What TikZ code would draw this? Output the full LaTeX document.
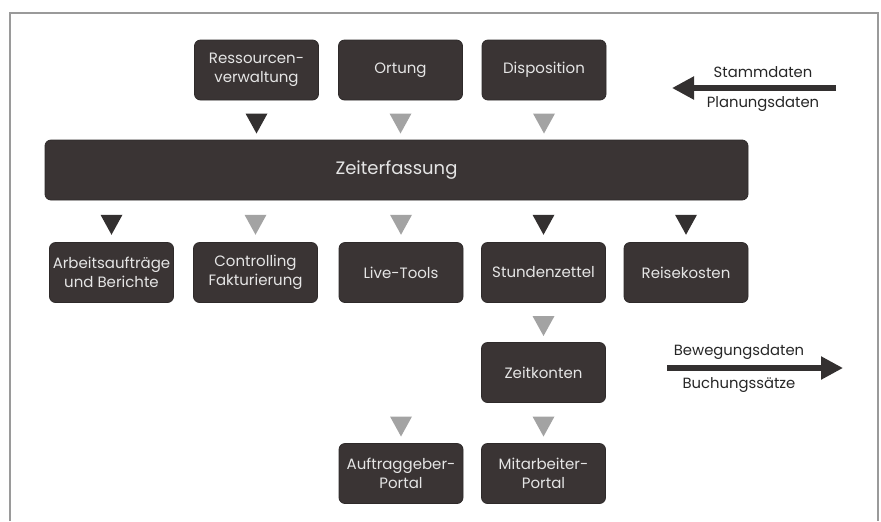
\documentclass[tikz,border=0pt]{standalone}
\usepackage{fontspec}
\setmainfont{Poppins}
\usepackage{xcolor}
\usetikzlibrary{positioning,calc,arrows.meta,shapes.geometric}

\definecolor{boxfill}{HTML}{3A3434}
\definecolor{tridark}{HTML}{333030}
\definecolor{trilight}{HTML}{A3A3A3}
\definecolor{framegray}{HTML}{9A9A9A}

\tikzset{
    modul/.style={rectangle,rounded corners=3pt,fill=boxfill,draw=boxfill!80!black,
                  text=white!90!black,align=center,font=\fontsize{7.5}{9.5}\selectfont,
                  inner sep=0pt,minimum width=62pt,minimum height=30pt},
    tri/.style={isosceles triangle,shape border rotate=270,isosceles triangle stretches,
                minimum width=11pt,minimum height=10pt,inner sep=0pt,draw=none},
    dunkel/.style={tri,fill=tridark},
    hell/.style={tri,fill=trilight},
    datenfluss/.style={line width=2.6pt,draw=tridark,-{Triangle[length=11pt,width=11pt]}},
    beschr/.style={font=\fontsize{7.4}{9}\selectfont,text=black!85}
}

\begin{document}
\begin{tikzpicture}[x=0.5pt,y=-0.5pt]
    \useasboundingbox (0,0) rectangle (881,521);
    \draw[framegray,line width=0.6pt] (10,521) -- (10,13) -- (878,13) -- (878,521);

    %Nodes
        \node[modul] (ress) at (256.5,70) {Ressourcen-\\verwaltung};
        \node[modul] (ortung) at (400.5,70) {Ortung};
        \node[modul] (dispo) at (544,70) {Disposition};

        \node[modul,minimum width=351.5pt,font=\fontsize{9}{11}\selectfont] (zeit) at (396.5,170) {Zeiterfassung};

        \node[modul] (arbeit) at (111.5,272.5) {Arbeitsaufträge\\und Berichte};
        \node[modul] (contr) at (255.5,272.5) {Controlling\\Fakturierung};
        \node[modul] (live) at (401,272.5) {Live-Tools};
        \node[modul] (stunden) at (543.5,272.5) {Stundenzettel};
        \node[modul] (reise) at (686,272.5) {Reisekosten};

        \node[modul] (konten) at (543.5,372.5) {Zeitkonten};

        \node[modul] (auftrag) at (401,473.5) {Auftraggeber-\\Portal};
        \node[modul] (mitarb) at (543.5,473.5) {Mitarbeiter-\\Portal};

        \coordinate (stammA) at (836,88);
        \coordinate (stammB) at (672,88);
        \coordinate (bewegA) at (667,368);
        \coordinate (bewegB) at (843,368);

    %Lines
        \path (ress.south) -- (zeit.north -| ress) node[midway,dunkel] (t1) {};
        \path (ortung.south) -- (zeit.north -| ortung) node[midway,hell] (t2) {};
        \path (dispo.south) -- (zeit.north -| dispo) node[midway,hell] (t3) {};

        \path (zeit.south -| arbeit) -- (arbeit.north) node[midway,dunkel] (t4) {};
        \path (zeit.south -| contr) -- (contr.north) node[midway,hell] (t5) {};
        \path (zeit.south -| live) -- (live.north) node[midway,hell] (t6) {};
        \path (zeit.south -| stunden) -- (stunden.north) node[midway,dunkel] (t7) {};
        \path (zeit.south -| reise) -- (reise.north) node[midway,dunkel] (t8) {};

        \path (stunden.south) -- (konten.north) node[midway,hell] (t9) {};
        \path (konten.south -| auftrag) -- (auftrag.north) node[midway,hell] (t10) {};
        \path (konten.south) -- (mitarb.north) node[midway,hell] (t11) {};

        \draw[datenfluss] (stammA) -- (stammB);
        \draw[datenfluss] (bewegA) -- (bewegB);

    %Labels
        \node[beschr] (stammtxt) at (763,72) {Stammdaten};
        \node[beschr] (plantxt) at (763,104) {Planungsdaten};
        \node[beschr] (bewegtxt) at (739,352) {Bewegungsdaten};
        \node[beschr] (buchtxt) at (739,385) {Buchungssätze};
\end{tikzpicture}
\end{document}
